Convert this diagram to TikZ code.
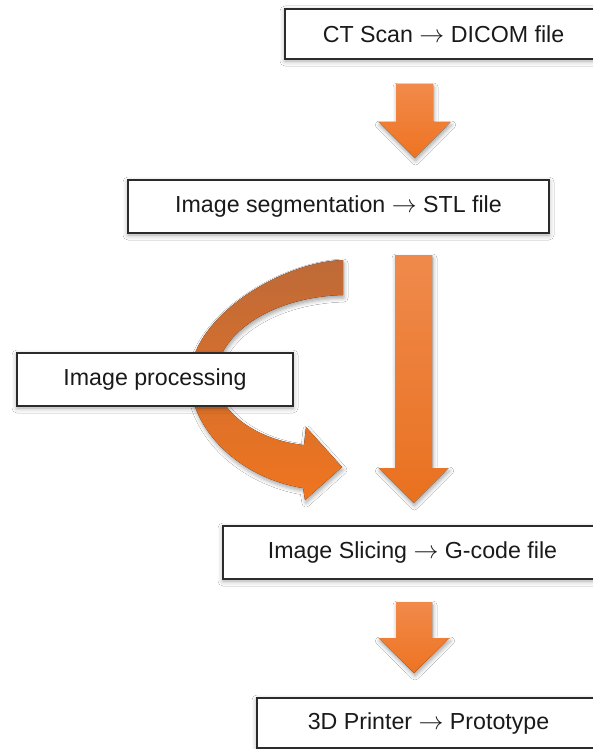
\documentclass[tikz,border=0pt]{standalone}
\usepackage{fontspec}
\setmainfont{Liberation Sans}
\usetikzlibrary{shadows.blur}

\definecolor{boxline}{HTML}{2B2B2B}
\definecolor{boxtext}{HTML}{1A1A1A}
\definecolor{orTop}{HTML}{F18A4A}
\definecolor{orBot}{HTML}{EE7322}
\definecolor{curTop}{HTML}{BE6A38}
\definecolor{curBot}{HTML}{F0751F}
\definecolor{longTop}{HTML}{EF8A4C}
\definecolor{longBot}{HTML}{E9711F}

\newcommand\flowto{\ensuremath{\rightarrow}}

\tikzset{
  stage/.style={draw=boxline, line width=1.4pt, fill=white, inner sep=0pt,
    text=boxtext, font=\fontsize{23.2}{28}\selectfont,
    blur shadow={shadow xshift=0pt, shadow yshift=-2pt,
      shadow blur radius=5pt, shadow opacity=35}},
  flowarrow/.style={blur shadow={shadow xshift=1pt, shadow yshift=-3pt,
      shadow blur radius=4pt, shadow opacity=35}},
  shortarrow/.style={flowarrow, top color=orTop, bottom color=orBot},
  longarrow/.style={flowarrow, top color=longTop, bottom color=longBot},
  curvedarrow/.style={flowarrow, top color=curTop, bottom color=curBot},
}

% block arrow pointing down: x, top, head base, tip, shaft half width, head half width, style
\newcommand\blockdown[7]{%
  \fill[#7] (#1-#5,#2) -- (#1+#5,#2) -- (#1+#5,#3) -- (#1+#6,#3)
    -- (#1,#4) -- (#1-#6,#3) -- (#1-#5,#3) -- cycle;}

\begin{document}
\begin{tikzpicture}[x=1pt, y=-1pt]
  \useasboundingbox (0,0) rectangle (593,749);
  \clip (0,0) rectangle (593,749);
  \fill[white] (0,0) rectangle (593,749);

  % process stages
  \node[stage, minimum width=317pt, minimum height=50pt] (scan) at (443.5,34) {CT Scan \flowto{} DICOM file};
  \node[stage, minimum width=421pt, minimum height=53pt] (seg) at (338.5,206.5) {Image segmentation \flowto{} STL file};
  \node[stage, minimum width=379pt, minimum height=53pt] (slice) at (412.5,552.5) {Image Slicing \flowto{} G-code file};
  \node[stage, minimum width=343pt, minimum height=50pt] (print) at (428.5,723) {3D Printer \flowto{} Prototype};

  % straight flow arrows
  \blockdown{414.5}{84}{122}{158}{18.5}{36}{shortarrow}
  \blockdown{413.5}{255}{468}{503}{18.5}{35}{longarrow}
  \blockdown{414}{602}{638}{673}{18}{35.5}{shortarrow}

  % curved arrow through the image processing step
  \fill[curvedarrow]
    (343,260) .. controls (280,262) and (190,318) .. (190,378)
    .. controls (190,430) and (240,478) .. (303,488)
    -- (305,500) -- (342,467) -- (306,427) -- (304,445)
    .. controls (255,440) and (216,410) .. (216,378)
    .. controls (216,335) and (270,297) .. (343,295) -- cycle;

  \node[stage, minimum width=276pt, minimum height=53pt] (proc) at (155,379.5) {Image processing};
\end{tikzpicture}
\end{document}
